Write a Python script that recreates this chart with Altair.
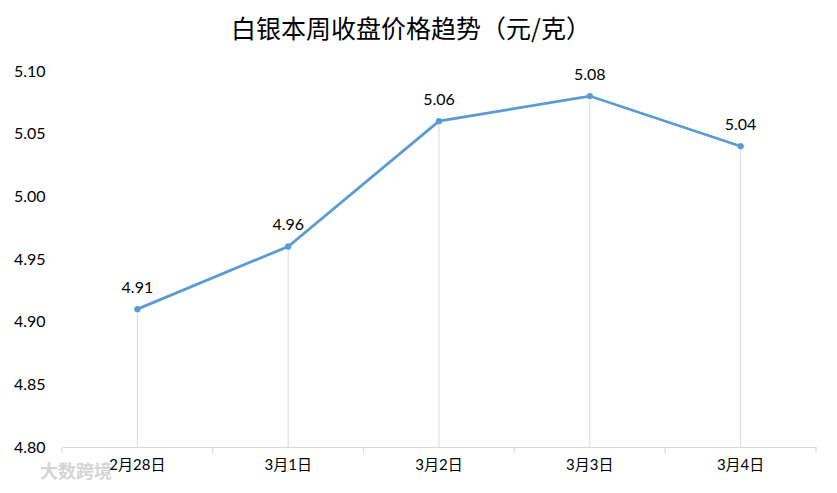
import altair as alt
import pandas as pd

dates = ["2月28日", "3月1日", "3月2日", "3月3日", "3月4日"]
prices = [4.91, 4.96, 5.06, 5.08, 5.04]
y_ticks = [4.80, 4.85, 4.90, 4.95, 5.00, 5.05, 5.10]
title_text = "白银本周收盘价格趋势（元/克）"
watermark = "大数跨境"

df = pd.DataFrame({"date": dates, "price": prices, "base": [y_ticks[0]] * len(dates)})

FONT = "Lato, 'Noto Sans CJK SC'"
CJK = "Noto Sans CJK SC"
W, H = 754, 376

x_axis = alt.Axis(labelAngle=0, ticks=False, domain=True, domainColor="#d9d9d9",
                  domainWidth=1, labelFontSize=15, labelColor="#000000",
                  labelFont=FONT, labelPadding=10, grid=False)
x_scale = alt.Scale(paddingInner=0, paddingOuter=0)
x_enc = alt.X("date:N", sort=dates, title=None, scale=x_scale, axis=x_axis)
y_scale = alt.Scale(domain=[y_ticks[0], y_ticks[-1]], nice=False, zero=False)
y_enc = alt.Y("price:Q", title=None, scale=y_scale,
              axis=alt.Axis(values=y_ticks, format=".2f", ticks=False, domain=False, grid=False,
                            labelFontSize=16, labelColor="#000000", labelFont=FONT,
                            labelPadding=17))

base = alt.Chart(df)

drops = base.mark_rule(color="#d9d9d9", strokeWidth=1).encode(
    x=x_enc, y=y_enc, y2="base:Q")

tick0 = base.mark_rule(color="#d9d9d9", strokeWidth=1).encode(
    x=alt.X("date:N", sort=dates, title=None, scale=x_scale, axis=x_axis, bandPosition=0),
    y=alt.value(H), y2=alt.value(H + 6))
tick1 = base.mark_rule(color="#d9d9d9", strokeWidth=1).encode(
    x=alt.X("date:N", sort=dates, title=None, scale=x_scale, axis=x_axis, bandPosition=1),
    y=alt.value(H), y2=alt.value(H + 6))

line = base.mark_line(color="#5b9bd5", strokeWidth=2.75).encode(x=x_enc, y=y_enc)
pts = base.mark_point(filled=True, color="#5b9bd5", size=40, opacity=1).encode(x=x_enc, y=y_enc)
labels = base.mark_text(baseline="alphabetic", dy=-16, fontSize=16, font=FONT, color="#000000").encode(
    x=x_enc, y=y_enc, text=alt.Text("price:Q", format=".2f"))

wm = alt.Chart(pd.DataFrame({"t": [watermark]})).mark_text(
    align="left", baseline="middle", fontSize=18, font=CJK, color="#d4d4d4",
    fontWeight="bold").encode(x=alt.value(-22), y=alt.value(H + 26), text="t:N")

chart = alt.layer(drops, tick0, tick1, line, pts, labels, wm).properties(
    width=W, height=H,
    background="#ffffff",
    title=alt.Title(title_text, fontSize=25, font=CJK, fontWeight="normal", color="#000000",
                    anchor="middle", frame="group", offset=20, dx=-28),
    autosize=alt.AutoSizeParams(type="none"),
    padding={"left": 54, "top": 63, "right": 13, "bottom": 38},
).configure_view(strokeWidth=0, stroke="transparent").configure_axisY(domain=False, grid=False)

chart.save("out.html", embed_options={"renderer": "svg", "actions": False})
